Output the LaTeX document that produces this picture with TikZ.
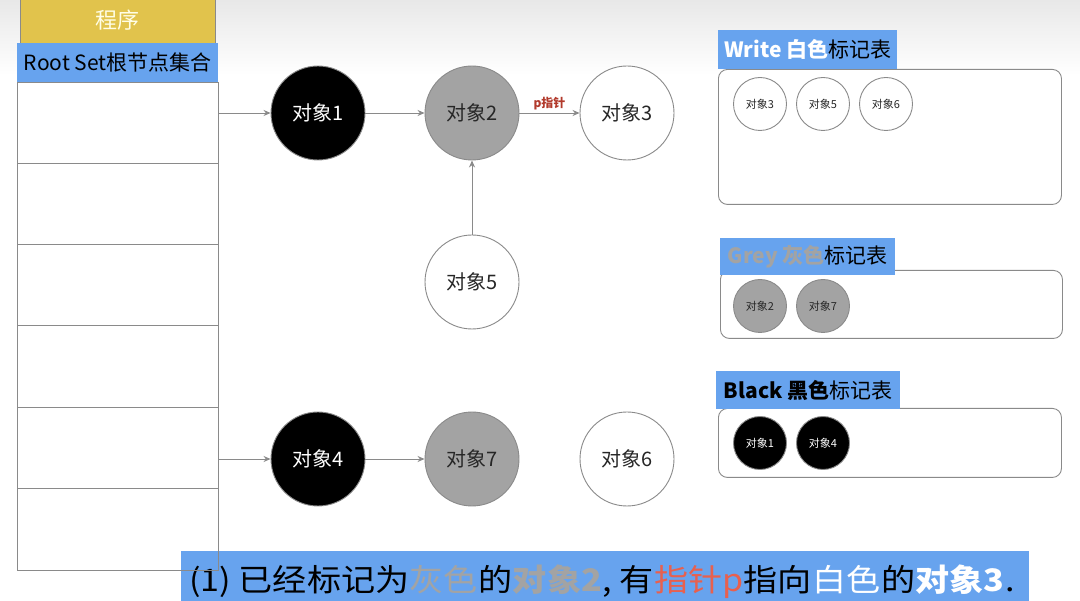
\documentclass[tikz,border=0pt]{standalone}
\usepackage{fontspec}
\setmainfont{Noto Sans CJK SC}
\usetikzlibrary{arrows.meta}
\definecolor{hdrblue}{HTML}{67A3EE}
\definecolor{prgyellow}{HTML}{E1C34C}
\definecolor{objgrey}{HTML}{A3A3A3}
\definecolor{linegrey}{HTML}{8A8A8A}
\definecolor{pred}{HTML}{B23A2C}
\definecolor{capred}{HTML}{E8604E}
\definecolor{capwhite}{HTML}{FFFFFF}
\tikzset{
  cell/.style={draw=linegrey, line width=0.9pt, minimum width=201pt, minimum height=81pt, inner sep=0pt, anchor=north west},
  bigobj/.style={circle, draw=linegrey, line width=0.9pt, minimum size=94pt, inner sep=0pt, font=\fontsize{20}{24}\selectfont},
  smallobj/.style={circle, draw=linegrey, line width=0.9pt, minimum size=53pt, inner sep=0pt, font=\fontsize{11}{13}\selectfont},
  whiteobj/.style={fill=white, text=black!85},
  greyobj/.style={fill=objgrey, text=black!85},
  blackobj/.style={fill=black, text=white},
  arr/.style={draw=linegrey, line width=0.9pt, -{Stealth[length=7pt,width=6pt]}},
  hdr/.style={fill=hdrblue, inner sep=0pt, anchor=north west, font=\fontsize{21}{24}\selectfont},
  panel/.style={draw=linegrey, line width=0.9pt, rounded corners=9pt, fill=white, anchor=north west, inner sep=0pt},
  seg/.style={anchor=base west, inner sep=0pt, xscale=1.1, font=\fontsize{31}{35}\selectfont, text=black},
}
\begin{document}
\begin{tikzpicture}[x=1pt,y=-1pt]
\useasboundingbox (0,0) rectangle (1080,601);
\fill[white] (0,0) rectangle (1080,601);
\shade[top color=black!9, bottom color=white] (0,0) rectangle (1080,75);

% caption (under the table lines)
\node[fill=hdrblue, minimum width=848pt, minimum height=50pt, inner sep=0pt, anchor=north west] (cap) at (181,551) {};
\node[seg] (s1) at (189,591) {(1) 已经标记为};
\node[seg, text=objgrey] (s2) at (s1.base east) {灰色};
\node[seg] (s3) at (s2.base east) {的};
\node[seg, text=objgrey, font=\bfseries\fontsize{31}{35}\selectfont] (s4) at (s3.base east) {对象2};
\node[seg] (s5) at (s4.base east) {,\ 有};
\node[seg, text=capred] (s6) at (s5.base east) {指针p};
\node[seg] (s7) at (s6.base east) {指向};
\node[seg, text=capwhite] (s8) at (s7.base east) {白色};
\node[seg] (s9) at (s8.base east) {的};
\node[seg, text=capwhite, font=\bfseries\fontsize{31}{35}\selectfont] (s10) at (s9.base east) {对象3};
\node[seg] (s11) at (s10.base east) {.};

% program box
\node[fill=prgyellow, draw=linegrey, line width=0.6pt, minimum width=195pt, minimum height=46pt, inner sep=0pt, anchor=north west, text=white!90!yellow, font=\fontsize{22}{26}\selectfont] (prog) at (20,-3) {程序};
\node[hdr, minimum width=201pt, minimum height=39pt] (root) at (17,43) {Root Set根节点集合};

% table cells
\node[cell, minimum height=81pt] (c1) at (17,82) {};
\node[cell, minimum height=81pt] (c2) at (17,163) {};
\node[cell, minimum height=81pt] (c3) at (17,244) {};
\node[cell, minimum height=82pt] (c4) at (17,325) {};
\node[cell, minimum height=81pt] (c5) at (17,407) {};
\node[cell, minimum height=82pt] (c6) at (17,488) {};

% objects
\node[bigobj, blackobj] (o1) at (318,113) {对象1};
\node[bigobj, greyobj] (o2) at (472,113) {对象2};
\node[bigobj, whiteobj] (o3) at (627,113) {对象3};
\node[bigobj, whiteobj] (o5) at (472,282) {对象5};
\node[bigobj, blackobj] (o4) at (318,459) {对象4};
\node[bigobj, greyobj] (o7) at (472,459) {对象7};
\node[bigobj, whiteobj] (o6) at (627,459) {对象6};

\coordinate (r1) at (218,113);
\coordinate (r5) at (218,459);
\draw[arr] (r1) -- (o1);
\draw[arr] (o1) -- (o2);
\draw[arr] (o2) -- node[above=-1pt, text=pred, font=\bfseries\fontsize{12}{14}\selectfont] (plabel) {p指针} (o3);
\draw[arr] (o5) -- (o2);
\draw[arr] (r5) -- (o4);
\draw[arr] (o4) -- (o7);

% white table
\node[panel, minimum width=343pt, minimum height=135pt] (wpanel) at (718,69) {};
\node[hdr, minimum width=179pt, minimum height=39pt] (whdr) at (718,30) {{\bfseries\color{white}Write 白色}标记表};
\node[smallobj, whiteobj] (w3) at (760,104) {对象3};
\node[smallobj, whiteobj] (w5) at (823,104) {对象5};
\node[smallobj, whiteobj] (w6) at (886,104) {对象6};

% grey table
\node[panel, minimum width=342pt, minimum height=68pt] (gpanel) at (720,270) {};
\node[hdr, minimum width=175pt, minimum height=37pt] (ghdr) at (720,238) {{\bfseries\color{objgrey}Grey 灰色}标记表};
\node[smallobj, greyobj] (g2) at (760,306) {对象2};
\node[smallobj, greyobj] (g7) at (823,306) {对象7};

% black table
\node[panel, minimum width=343pt, minimum height=69pt] (bpanel) at (718,408) {};
\node[hdr, minimum width=184pt, minimum height=38pt] (bhdr) at (716,371) {\textbf{Black 黑色}标记表};
\node[smallobj, blackobj] (b1) at (760,443) {对象1};
\node[smallobj, blackobj] (b4) at (823,443) {对象4};
\end{tikzpicture}
\end{document}
